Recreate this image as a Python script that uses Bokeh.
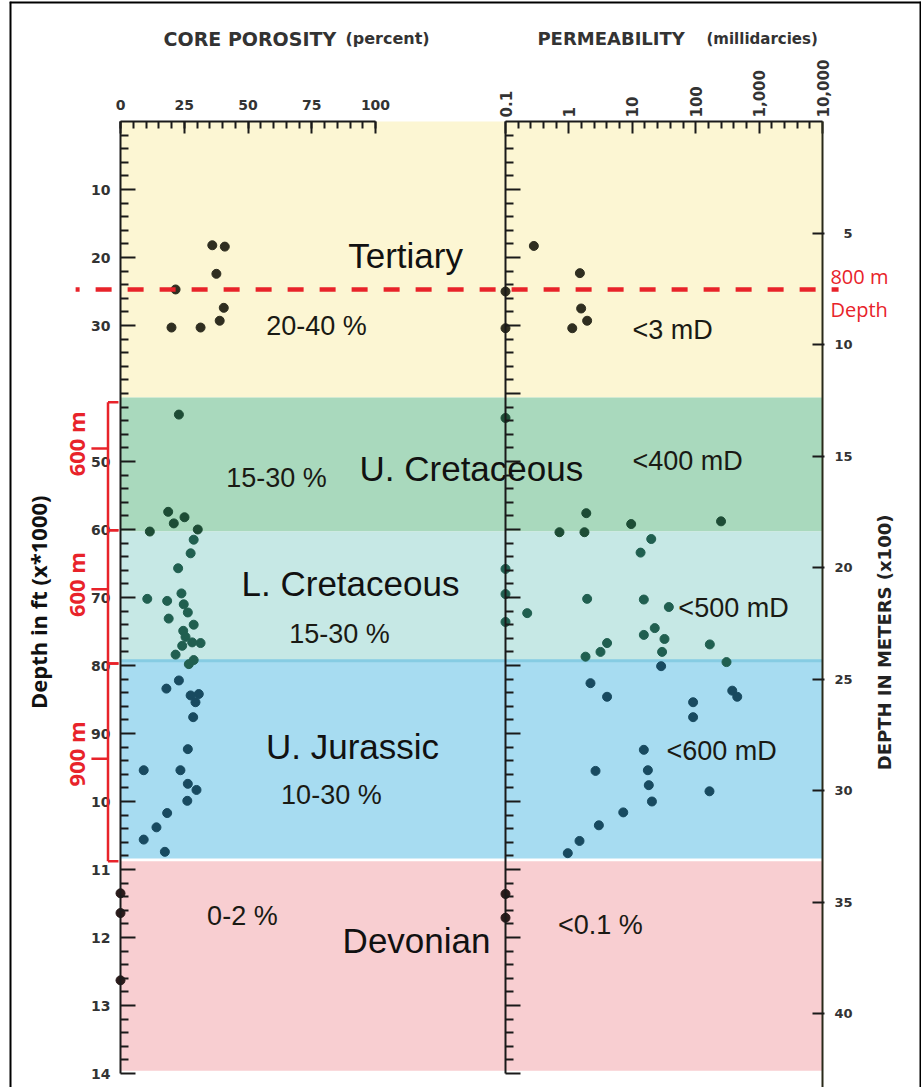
import math
from bokeh.plotting import figure
from bokeh.models import (Range1d, LogScale, LinearAxis, LogAxis, FixedTicker,
                          ColumnDataSource, Label, Arrow, Span)
from bokeh.core.properties import value
from bokeh.embed import file_html
from bokeh.resources import INLINE

# ---------------- data (depth in hundreds of feet) ----------------
band_names = ["Tertiary", "U. Cretaceous", "L. Cretaceous", "U. Jurassic", "Devonian"]
band_top = [0.0, 40.6, 60.3, 79.3, 108.8]
band_bottom = [40.6, 60.3, 79.3, 108.4, 139.6]
por_range_text = ["20-40 %", "15-30 %", "15-30 %", "10-30 %", "0-2 %"]
perm_range_text = ["<3 mD", "<400 mD", "<500 mD", "<600 mD", "<0.1 %"]

por_depth = [18.2, 18.4, 22.4, 24.7, 27.4, 29.3, 30.3, 30.3,
             43.1, 57.4, 58.2, 59.1, 60.3, 60.0, 61.5, 63.5, 65.7, 70.2,
             69.4, 70.5, 71.0, 72.2, 73.1, 74.0, 74.9, 75.8, 76.6, 76.7,
             77.1, 78.4, 79.2, 79.8, 82.2, 83.4, 84.4, 84.2, 85.4, 87.6,
             92.3, 95.4, 95.4, 97.4, 98.3, 99.9, 101.7, 103.8, 105.6, 107.4,
             113.5, 116.4, 126.3]
por_value = [36.0, 40.9, 37.6, 21.6, 40.5, 38.9, 31.4, 20.0,
             22.9, 18.7, 25.1, 20.9, 11.5, 30.3, 28.7, 27.5, 22.6, 10.5,
             23.9, 18.3, 24.8, 26.4, 18.9, 28.7, 24.6, 25.5, 28.1, 31.4,
             24.2, 21.6, 28.7, 26.8, 22.9, 18.0, 27.5, 30.7, 29.4, 28.5,
             26.4, 9.1, 23.5, 26.4, 29.8, 26.2, 18.3, 14.1, 9.1, 17.4,
             0.0, 0.0, 0.0]

perm_depth = [18.3, 22.3, 25.0, 27.5, 29.3, 30.4, 30.4,
              43.6, 57.6, 59.2, 58.8, 60.4, 60.4, 61.4, 63.4, 65.8, 69.5,
              70.2, 70.3, 71.4, 72.3, 73.6, 74.5, 75.5, 76.1, 76.7, 76.9,
              78.0, 78.0, 78.7, 80.1, 79.5, 82.6, 84.6, 83.7, 84.6, 85.4,
              87.6, 92.4, 95.5, 95.4, 97.6, 98.5, 100.0, 101.6, 103.5, 105.8,
              107.6, 113.6, 117.1]
perm_value = [0.28, 1.49, 0.1, 1.56, 1.94, 1.13, 0.1,
              0.1, 1.88, 9.6, 251, 0.71, 1.76, 19.9, 13.5, 0.1, 0.1,
              1.94, 15.2, 37.7, 0.22, 0.1, 22.6, 15.2, 32.2, 4.0, 167,
              3.15, 29.5, 1.83, 28.5, 306, 2.19, 4.0, 377, 452, 91,
              91, 15.2, 2.63, 17.6, 18.2, 165, 20.4, 7.2, 2.97, 1.47,
              0.96, 0.1, 0.1]

depth_ticks = [10, 20, 30, 50, 60, 70, 80, 90, 100, 110, 120, 130, 140]
depth_labels = ["10", "20", "30", "50", "60", "70", "80", "90",
                "10", "11", "12", "13", "14"]
porosity_ticks = [0, 25, 50, 75, 100]
perm_ticks = [0.1, 1, 10, 100, 1000, 10000]
perm_labels = ["0.1", "1", "10", "100", "1,000", "10,000"]
meter_ticks = [5, 10, 15, 20, 25, 30, 35, 40]

depth_800m_line = 24.7
bracket_top = [41.3, 60.1, 79.7]
bracket_bottom = [60.1, 79.7, 108.8]
bracket_mid = [48.1, 68.8, 93.7]
bracket_text = ["600 m", "600 m", "900 m"]

# ---------------- styling / layout ----------------
band_colors = ["#FCF6D3", "#A9D9BD", "#C6E8E5", "#A7DCF1", "#F8CED1"]
dot_colors = ["#2F2E20", "#1D4C35", "#205F50", "#184A60", "#2A1B1B"]
RED = "#E8232A"
SANS = value("Liberation Sans")
AXF = "DejaVu Sans"

# frame covers the whole visible picture; the axis panels are pushed off-page
LB, TB = 150, 120
FW, FH = 912, 1086
X0, X1 = -111 / 2.55, 801 / 2.55              # porosity units (0 % at x=120 px)
PANEL_RIGHT = 702 / 2.55                      # where 10,000 mD sits
PERM0, PERM1 = 10 ** (-1 - 496 / 63.4), 10 ** (4 + 99 / 63.4)
Y_TOP, Y_BOT = -120 / 6.8, 966 / 6.8          # hundreds of ft
M_TOP, M_BOT = Y_TOP * 0.3048, Y_BOT * 0.3048  # hundreds of metres

def band_index(d):
    for i in range(len(band_top)):
        if band_top[i] - 0.5 <= d <= band_bottom[i] + 0.5:
            return i
    return len(band_top) - 1

p = figure(width=LB + FW, height=TB + FH, output_backend="svg", toolbar_location=None,
           x_range=Range1d(X0, X1), y_range=Range1d(Y_BOT, Y_TOP),
           x_axis_location="above", y_axis_location="left",
           extra_x_ranges={"perm": Range1d(PERM0, PERM1)},
           extra_x_scales={"perm": LogScale()},
           extra_y_ranges={"m": Range1d(M_BOT, M_TOP)},
           min_border_left=LB, min_border_right=0, min_border_top=TB,
           min_border_bottom=0, outline_line_color=None,
           background_fill_color="white", border_fill_color="white")
p.margin = (-119, 0, 0, -141)
p.styles = {"margin": "-119px 0px 0px -141px"}
p.grid.visible = False

# picture border
for loc, dim in [(X0, "height"), (X1, "height"), (Y_TOP, "width")]:
    p.add_layout(Span(location=loc, dimension=dim, line_color="black", line_width=4))

# bands
p.quad(left=[0] * 5, right=[PANEL_RIGHT] * 5, top=band_top, bottom=band_bottom,
       fill_color=band_colors, line_color=None)
p.segment(x0=[0], x1=[PANEL_RIGHT], y0=[band_top[3]], y1=[band_top[3]],
          line_color="#86CCE3", line_width=3)

# points
por_src = ColumnDataSource(dict(x=por_value, y=por_depth,
                                c=[dot_colors[band_index(d)] for d in por_depth]))
p.scatter("x", "y", source=por_src, size=9, fill_color="c", line_color="c")
perm_src = ColumnDataSource(dict(x=perm_value, y=perm_depth,
                                 c=[dot_colors[band_index(d)] for d in perm_depth]))
p.scatter("x", "y", source=perm_src, size=9, fill_color="c", line_color="c",
          x_range_name="perm")

# texts in the bands
name_x = [111.8, 137.6, 90.2, 91.0, 116.1]
name_y = [19.7, 51.0, 67.9, 91.9, 120.4]
p.text(x=name_x, y=name_y, text=band_names, text_font=SANS, text_font_size="35px",
       text_align="center", text_baseline="middle", text_color="#111111")
por_x = [76.9, 61.2, 85.9, 82.7, 47.8]
por_y = [30.0, 52.4, 75.3, 99.1, 116.8]
p.text(x=por_x, y=por_y, text=por_range_text, text_font=SANS, text_font_size="27px",
       text_align="center", text_baseline="middle", text_color="#1a1a14")
perm_x = [216.5, 222.4, 240.4, 235.7, 188.2]
perm_y = [30.7, 49.9, 71.6, 92.5, 118.2]
p.text(x=perm_x, y=perm_y, text=perm_range_text, text_font=SANS, text_font_size="27px",
       text_align="center", text_baseline="middle", text_color="#1a1a14")

# ---------------- axes (all fixed inside the frame) ----------------
def style_axis(ax, size="14px"):
    ax.axis_line_color = "#1a1a1a"
    ax.axis_line_width = 2
    ax.major_tick_line_color = "#1a1a1a"
    ax.major_tick_line_width = 2
    ax.minor_tick_line_color = "#1a1a1a"
    ax.minor_tick_line_width = 2
    ax.major_label_text_font = AXF
    ax.major_label_text_font_style = "bold"
    ax.major_label_text_font_size = size
    ax.major_label_text_color = "#333333"

minor_depth = [v for v in range(2, 141, 2) if v not in depth_ticks]
every10 = list(range(10, 141, 10))
every2 = [v for v in range(2, 141, 2) if v % 10]

ly = p.yaxis[0]
ly.fixed_location = 0
ly.bounds = (0, 140)
ly.ticker = FixedTicker(ticks=depth_ticks, minor_ticks=minor_depth)
ly.major_label_overrides = dict(zip(depth_ticks, depth_labels))
style_axis(ly)
ly.major_tick_in = 15
ly.major_tick_out = 0
ly.minor_tick_in = 8
ly.minor_tick_out = 0
ly.major_label_standoff = 10

for ticks_list, length, line in [(every2, 8, "#1a1a1a"), (every10, 15, None)]:
    mid = LinearAxis(x_range_name="perm", fixed_location=0.1, bounds=(0, 140),
                     ticker=FixedTicker(ticks=[], minor_ticks=ticks_list))
    style_axis(mid)
    mid.axis_line_color = line
    mid.major_tick_in = 0
    mid.major_tick_out = 0
    mid.minor_tick_in = length
    mid.minor_tick_out = 0
    p.add_layout(mid, "left")

rax = LinearAxis(y_range_name="m", x_range_name="perm", fixed_location=10000,
                 bounds=(0, 43.3), ticker=FixedTicker(ticks=meter_ticks, minor_ticks=[]))
style_axis(rax, "13px")
rax.axis_line_color = "#2a2a1a"
rax.major_tick_in = 2
rax.major_tick_out = 10
rax.minor_tick_in = 0
rax.minor_tick_out = 0
rax.major_label_standoff = -40
p.add_layout(rax, "left")

tx = p.xaxis[0]
tx.fixed_location = 0
tx.ticker = FixedTicker(ticks=porosity_ticks, minor_ticks=list(range(0, 101, 5)))
tx.bounds = (0, 100)
style_axis(tx)
tx.major_tick_in = 12
tx.major_tick_out = 0
tx.minor_tick_in = 7
tx.minor_tick_out = 0
tx.major_label_standoff = 12

perm_minor = [10 ** (k + j / 5) for k in range(-1, 4) for j in range(1, 5)]
pax = LogAxis(x_range_name="perm", fixed_location=0,
              ticker=FixedTicker(ticks=perm_ticks, minor_ticks=perm_minor),
              bounds=(0.1, 10000), major_label_orientation="vertical",
              major_label_overrides=dict(zip(perm_ticks, perm_labels)))
style_axis(pax, "15px")
pax.major_tick_in = 12
pax.major_tick_out = 0
pax.minor_tick_in = 7
pax.minor_tick_out = 0
pax.major_label_standoff = 4
p.add_layout(pax, "above")

# ---------------- titles ----------------
def label(x, y, txt, size, font=AXF, style="bold", color="#333333", align="left",
          angle=0.0):
    p.add_layout(Label(x=x, y=y, text=txt, text_align=align, text_baseline="middle",
                       text_font=font, text_font_style=style, text_font_size=size,
                       text_color=color, angle=angle))

label(16.9, -12.2, "CORE POROSITY", "19px")
label(88.2, -12.2, "(percent)", "16px")
label(163.5, -12.2, "PERMEABILITY", "18px")
label(229.8, -12.2, "(millidarcies)", "15px")
label(-32.2, 70.7, "Depth in ft (x*1000)", "22px", font="Open Sans", color="#111111",
      align="center", angle=math.pi / 2)
label(299.6, 76.6, "DEPTH IN METERS (x100)", "18px", color="#222222", align="center",
      angle=math.pi / 2)

# ---------------- 800 m line ----------------
p.add_layout(Arrow(end=None, x_start=-17.6, y_start=depth_800m_line, x_end=281.6,
                   y_end=depth_800m_line, line_color=RED, line_width=4.5,
                   line_dash="16 16", line_dash_offset=12))
label(278.4, 22.8, "800 m", "20px", font="Open Sans", style="normal", color=RED)
label(278.4, 27.6, "Depth", "20px", font="Open Sans", style="normal", color=RED)

# ---------------- brackets ----------------
for t, b, m, txt in zip(bracket_top, bracket_bottom, bracket_mid, bracket_text):
    segs = [(-4.9, t, -4.9, b), (-4.9, t, -0.8, t), (-4.9, b, -0.8, b), (-11.4, m, -4.9, m)]
    for xa, ya, xb, yb in segs:
        p.add_layout(Arrow(end=None, x_start=xa, y_start=ya, x_end=xb, y_end=yb,
                           line_color=RED, line_width=2.5))
    label(-17.6, m - 0.7, txt, "22px", font="Open Sans", color=RED, align="center",
          angle=math.pi / 2)

open("out.html", "w").write(file_html(p, INLINE))
